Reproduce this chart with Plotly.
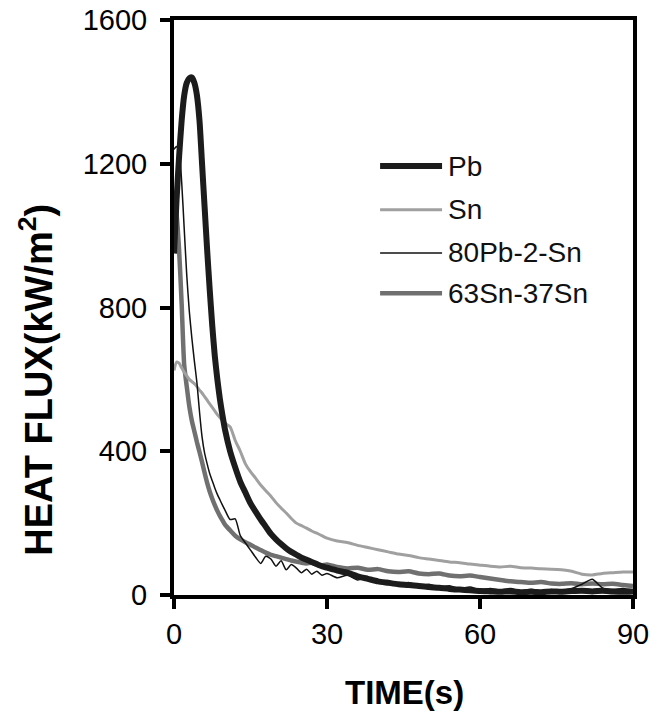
import plotly.graph_objects as go

time_s = [0, 0.5, 1, 1.5, 2, 2.5, 3, 3.5, 4, 4.5, 5, 5.5, 6, 6.5, 7, 7.5, 8, 8.5, 9, 9.5, 10,
          11, 12, 13, 14, 15, 16, 17, 18, 19, 20, 21, 22, 23, 24, 25, 26, 27, 28, 29, 30,
          32, 34, 36, 38, 40, 42, 44, 46, 48, 50, 52, 54, 56, 58, 60,
          62, 64, 66, 68, 70, 72, 74, 76, 78, 80, 82, 84, 86, 88, 90]

pb = [950, 1100, 1220, 1320, 1390, 1425, 1438, 1440, 1425, 1390, 1320, 1200, 1080, 960, 850, 750, 665, 600, 545, 500, 460,
      400, 355, 315, 285, 255, 232, 210, 190, 170, 155, 142, 130, 120, 112, 104, 98, 92, 86, 80, 76,
      68, 62, 52, 45, 38, 34, 30, 28, 25, 22, 20, 17, 15, 13, 11,
      10, 9, 10, 8, 9, 8, 10, 9, 11, 12, 10, 12, 10, 9, 10]

sn = [625, 648, 645, 632, 620, 610, 600, 594, 588, 580, 570, 562, 552, 542, 532, 522, 512, 502, 494, 486, 478,
      468, 430, 400, 365, 343, 325, 306, 290, 275, 257, 242, 228, 213, 200, 193, 186, 178, 172, 165, 158,
      150, 146, 138, 132, 126, 120, 114, 110, 104, 100, 96, 92, 90, 86, 83,
      80, 78, 80, 76, 75, 73, 72, 70, 66, 58, 56, 60, 62, 64, 64]

pb80_sn2 = [1240, 1248, 1235, 1150, 1020, 890, 790, 715, 650, 590, 510, 440, 395, 365, 338, 318, 298, 280, 265, 250, 236,
            210, 212, 165, 145, 125, 105, 88, 108, 100, 80, 95, 70, 85, 75, 62, 72, 58, 66, 55, 60,
            48, 55, 42, 48, 36, 40, 30, 35, 26, 30, 22, 26, 18, 22, 15,
            18, 14, 18, 12, 16, 12, 15, 12, 18, 30, 44, 20, 15, 18, 14]

sn63_sn37 = [1120, 1060, 960, 810, 640, 580, 525, 485, 455, 425, 398, 370, 340, 312, 288, 268, 250, 234, 220, 208, 196,
             180, 165, 155, 147, 140, 132, 125, 118, 112, 108, 104, 100, 96, 93, 90, 88, 90, 84, 82, 85,
             78, 74, 76, 70, 72, 66, 64, 66, 60, 58, 60, 54, 52, 54, 50,
             46, 42, 38, 36, 34, 36, 32, 31, 33, 30, 32, 30, 31, 28, 25]

series_names = ["Pb", "Sn", "80Pb-2-Sn", "63Sn-37Sn"]
x_ticks = [0, 30, 60, 90]
y_ticks = [0, 400, 800, 1200, 1600]
x_title = "TIME(s)"
y_title = "HEAT FLUX(kW/m<sup>2</sup>)"

styles = {
    "Pb": dict(color="#1c1c1c", width=6),
    "Sn": dict(color="#a0a0a0", width=3),
    "80Pb-2-Sn": dict(color="#111111", width=1.5),
    "63Sn-37Sn": dict(color="#707070", width=4.5),
}
values = {"Pb": pb, "Sn": sn, "80Pb-2-Sn": pb80_sn2, "63Sn-37Sn": sn63_sn37}
draw_order = ["63Sn-37Sn", "Sn", "80Pb-2-Sn", "Pb"]

fig = go.Figure()
for name in draw_order:
    fig.add_trace(go.Scatter(x=time_s, y=values[name], mode="lines", name=name,
                             line=dict(shape="spline", smoothing=0.6, **styles[name]),
                             showlegend=False))

# legend drawn as long line samples + text, as in the original
legend_rows_y = [0.746, 0.670, 0.595, 0.525]
shapes = []
annotations = []
for name, yy in zip(series_names, legend_rows_y):
    shapes.append(dict(type="line", xref="paper", yref="paper", x0=0.449, x1=0.584, y0=yy, y1=yy,
                       line=dict(color=styles[name]["color"], width=styles[name]["width"])))
    annotations.append(dict(text=name, xref="paper", yref="paper", x=0.593, y=yy,
                            xanchor="left", yanchor="middle", showarrow=False,
                            font=dict(size=28, color="#111")))

annotations.append(dict(text="<b>" + x_title + "</b>", xref="paper", yref="paper", x=0.503, y=-0.170,
                        xanchor="center", yanchor="middle", showarrow=False, font=dict(size=33)))
annotations.append(dict(text="<b>" + y_title + "</b>", xref="paper", yref="paper", x=-0.300, y=0.375,
                        xanchor="center", yanchor="middle", showarrow=False, textangle=-90,
                        font=dict(size=38)))

font_family = "Liberation Sans, Arial, sans-serif"
fig.update_layout(
    template="none",
    width=665, height=715,
    margin=dict(l=166, r=40, t=12, b=128),
    paper_bgcolor="white", plot_bgcolor="white",
    font=dict(family=font_family, color="black"),
    showlegend=False,
    shapes=shapes,
    annotations=annotations,
    xaxis=dict(range=[0, 90], tickvals=x_ticks, ticks="outside", ticklen=10, tickwidth=4,
               tickcolor="black", showline=True, linewidth=4, linecolor="black", mirror=True,
               showgrid=False, zeroline=False, automargin=False, tickfont=dict(size=29),
               ticklabeloverflow="allow"),
    yaxis=dict(range=[0, 1600], tickvals=y_ticks, ticks="outside", ticklen=10, tickwidth=4,
               tickcolor="black", showline=True, linewidth=4, linecolor="black", mirror=True,
               showgrid=False, zeroline=False, automargin=False, tickfont=dict(size=29),
               ticklabelstandoff=7, ticklabeloverflow="allow"),
)

fig.write_html("out.html")
